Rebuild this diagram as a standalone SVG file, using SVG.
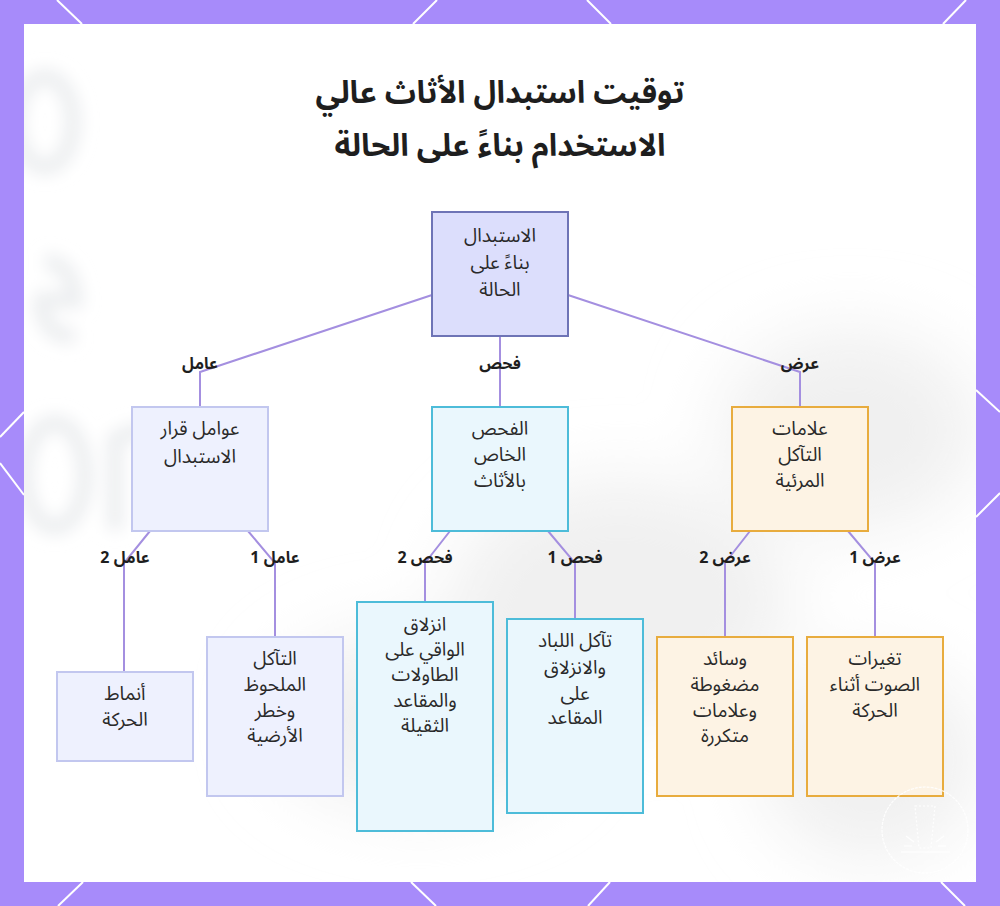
<svg xmlns="http://www.w3.org/2000/svg" width="1000" height="906" viewBox="0 0 1000 906">
<style>
.t{font-family:"Noto Sans Arabic","Noto Sans","DejaVu Sans",sans-serif;font-size:19px;fill:#2a2a2a;text-anchor:middle;direction:rtl}
.title{font-family:"Noto Sans Arabic","Noto Sans","DejaVu Sans",sans-serif;font-size:31px;font-weight:bold;fill:#1e1e1e;text-anchor:middle;direction:rtl}
.lbl{font-family:"Noto Sans Arabic","Noto Sans","DejaVu Sans",sans-serif;font-size:16px;font-weight:bold;fill:#1e1e1e;text-anchor:middle;direction:rtl}
.edge{fill:none;stroke:#a48fe0;stroke-width:2}
.deco{stroke:#ffffff;stroke-width:2;fill:none}
.root{fill:#dcdefc;stroke:#6e74b6;stroke-width:2}
.blue{fill:#eef1fe;stroke:#c2c7ef;stroke-width:2}
.cyan{fill:#eaf7fd;stroke:#4dbcd9;stroke-width:2}
.orange{fill:#fdf3e4;stroke:#e8ac3e;stroke-width:2}
</style>
<defs>
<filter id="blur" x="-50%" y="-50%" width="200%" height="200%"><feGaussianBlur stdDeviation="8"/></filter>
<filter id="blur2" x="-50%" y="-50%" width="200%" height="200%"><feGaussianBlur stdDeviation="35"/></filter>
<clipPath id="panel"><rect x="24" y="24" width="952" height="858"/></clipPath>
</defs>
<rect x="0" y="0" width="1000" height="906" fill="#a78bfa"/>
<g class="deco">
<line x1="57" y1="0" x2="82" y2="24"/>
<line x1="437" y1="0" x2="413" y2="24"/>
<line x1="587" y1="0" x2="611" y2="24"/>
<line x1="966" y1="0" x2="943" y2="24"/>
<line x1="83" y1="882" x2="58" y2="906"/>
<line x1="411" y1="882" x2="436" y2="906"/>
<line x1="610" y1="882" x2="588" y2="906"/>
<line x1="941" y1="882" x2="965" y2="906"/>
<line x1="0" y1="437" x2="24" y2="412"/>
<line x1="0" y1="463" x2="24" y2="495"/>
<line x1="976" y1="390" x2="1000" y2="412"/>
<line x1="976" y1="517" x2="1000" y2="493"/>
</g>
<rect x="24" y="24" width="952" height="858" fill="#ffffff"/>
<g id="watermark" clip-path="url(#panel)">
<g filter="url(#blur)" fill="none" stroke="#eceef0" stroke-width="16">
<ellipse cx="45" cy="122" rx="28" ry="45"/>
<path d="M35 300 L75 300 Q72 262 45 262 M40 300 Q45 340 75 335"/>
<ellipse cx="55" cy="475" rx="30" ry="52"/>
<path d="M115 530 L115 440 Q150 418 175 450"/>
</g>
<g filter="url(#blur2)" fill="#f0f0f0">
<ellipse cx="850" cy="430" rx="130" ry="100"/>
<ellipse cx="620" cy="600" rx="170" ry="120"/>
<ellipse cx="870" cy="760" rx="110" ry="100"/>
<ellipse cx="420" cy="720" rx="150" ry="90"/>
</g>
</g>
<g id="title">
<text class="title" x="500" y="103">توقيت استبدال الأثاث عالي</text>
<text class="title" x="500" y="156">الاستخدام بناءً على الحالة</text>
</g>
<g id="connectors">
<polyline class="edge" points="432,295 200,372 200,407"/>
<polyline class="edge" points="500,336 500,407"/>
<polyline class="edge" points="568,295 800,372 800,407"/>
<polyline class="edge" points="150,531 124,563 124,671"/>
<polyline class="edge" points="248,531 275,563 275,637"/>
<polyline class="edge" points="450,531 425,563 425,602"/>
<polyline class="edge" points="548,531 575,563 575,619"/>
<polyline class="edge" points="750,531 725,563 725,637"/>
<polyline class="edge" points="848,531 875,563 875,637"/>
<text class="lbl" x="200" y="369">عامل</text>
<text class="lbl" x="500" y="369">فحص</text>
<text class="lbl" x="800" y="369">عرض</text>
<text class="lbl" x="125" y="563">عامل 2</text>
<text class="lbl" x="275" y="563">عامل 1</text>
<text class="lbl" x="425" y="563">فحص 2</text>
<text class="lbl" x="575" y="563">فحص 1</text>
<text class="lbl" x="725" y="563">عرض 2</text>
<text class="lbl" x="875" y="563">عرض 1</text>
</g>
<g id="n-root">
<rect class="root" x="432" y="212" width="136" height="124"/>
<text class="t" x="500" y="242">الاستبدال</text>
<text class="t" x="500" y="269">بناءً على</text>
<text class="t" x="500" y="296">الحالة</text>
</g>
<g id="n-factors">
<rect class="blue" x="132" y="407" width="136" height="124"/>
<text class="t" x="200" y="435">عوامل قرار</text>
<text class="t" x="200" y="463">الاستبدال</text>
</g>
<g id="n-inspect">
<rect class="cyan" x="432" y="407" width="136" height="124"/>
<text class="t" x="500" y="435">الفحص</text>
<text class="t" x="500" y="461">الخاص</text>
<text class="t" x="500" y="487">بالأثاث</text>
</g>
<g id="n-signs">
<rect class="orange" x="732" y="407" width="136" height="124"/>
<text class="t" x="800" y="435">علامات</text>
<text class="t" x="800" y="461">التآكل</text>
<text class="t" x="800" y="487">المرئية</text>
</g>
<g id="n-motion">
<rect class="blue" x="57" y="672" width="136" height="89"/>
<text class="t" x="125" y="700">أنماط</text>
<text class="t" x="125" y="726">الحركة</text>
</g>
<g id="n-wear">
<rect class="blue" x="207" y="637" width="136" height="159"/>
<text class="t" x="275" y="665">التآكل</text>
<text class="t" x="275" y="691">الملحوظ</text>
<text class="t" x="275" y="717">وخطر</text>
<text class="t" x="275" y="742">الأرضية</text>
</g>
<g id="n-glides">
<rect class="cyan" x="357" y="602" width="136" height="229"/>
<text class="t" x="425" y="631">انزلاق</text>
<text class="t" x="425" y="656">الواقي على</text>
<text class="t" x="425" y="681">الطاولات</text>
<text class="t" x="425" y="707">والمقاعد</text>
<text class="t" x="425" y="732">الثقيلة</text>
</g>
<g id="n-felt">
<rect class="cyan" x="507" y="619" width="136" height="194"/>
<text class="t" x="575" y="647">تآكل اللباد</text>
<text class="t" x="575" y="674">والانزلاق</text>
<text class="t" x="575" y="700">على</text>
<text class="t" x="575" y="724">المقاعد</text>
</g>
<g id="n-cushions">
<rect class="orange" x="657" y="637" width="136" height="159"/>
<text class="t" x="725" y="665">وسائد</text>
<text class="t" x="725" y="691">مضغوطة</text>
<text class="t" x="725" y="717">وعلامات</text>
<text class="t" x="725" y="742">متكررة</text>
</g>
<g id="n-sound">
<rect class="orange" x="807" y="637" width="136" height="159"/>
<text class="t" x="875" y="665">تغيرات</text>
<text class="t" x="875" y="691">الصوت أثناء</text>
<text class="t" x="875" y="717">الحركة</text>
</g>
<g id="badge" fill="none" stroke="#ffffff" stroke-width="1.2" opacity="0.9">
<circle cx="925" cy="830" r="43" stroke-dasharray="3 1"/>
<path d="M915 806 L935 806 L931 848 L919 848 Z" stroke-dasharray="2 2"/>
<line x1="901" y1="852" x2="950" y2="852"/>
<path d="M906 836 L914 842 M944 836 L936 842 M904 846 L912 846 M946 846 L938 846"/>
</g>
</svg>
